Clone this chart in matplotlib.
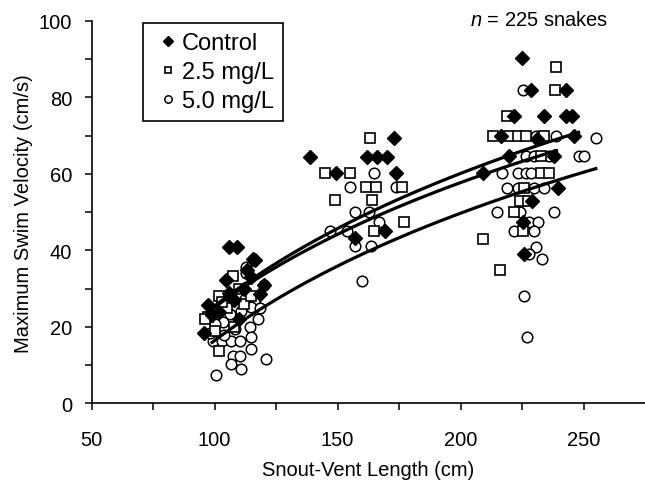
import numpy as np
import matplotlib
matplotlib.use("Agg")
import matplotlib.pyplot as plt

plt.rcParams['font.family'] = ['Liberation Sans', 'DejaVu Sans']
plt.rcParams['mathtext.fontset'] = 'custom'
plt.rcParams['mathtext.rm'] = 'Liberation Sans'
plt.rcParams['mathtext.it'] = 'Liberation Sans:italic'

# values
control_x = [105.9, 109.1, 116.3, 115.6, 104.5, 118.3, 97.5, 95.7, 112.0, 115.0, 120.0, 102.0, 108.0, 110.0,
             106.0, 113.0, 99.0,
             173.1, 138.9, 161.9, 166.0, 170.0, 149.5, 173.8, 169.1, 157.2,
             225.0, 228.6, 243.0, 221.9, 234.0, 243.0, 245.5, 216.5, 246.2, 219.8, 238.0, 209.0,
             239.5, 229.0, 225.2, 226.0, 231.0]
control_y = [40.8, 40.8, 37.6, 37.7, 32.3, 28.6, 25.8, 18.3, 30.0, 33.0, 31.0, 24.0, 27.0, 22.0,
             29.0, 35.0, 23.0,
             69.3, 64.3, 64.3, 64.3, 64.3, 60.2, 60.2, 45.1, 43.2,
             90.2, 82.0, 82.0, 75.2, 75.2, 75.2, 75.2, 70.0, 70.0, 64.8, 64.8, 60.2,
             56.3, 53.0, 47.5, 39.0, 69.0]

low_x = [107.5, 101.8, 97.5, 102.0, 110.0, 112.0, 105.0, 115.0, 100.0, 96.0, 108.0, 103.0,
         163.0, 145.1, 154.9, 161.4, 165.7, 176.3, 149.0, 164.1, 176.9, 165.0,
         239.0, 238.5, 218.7, 213.0, 219.8, 223.2, 226.6, 234.0, 232.7, 232.7, 236.0,
         226.0, 224.0, 227.3, 221.9, 225.2, 209.0, 216.0]
low_y = [33.3, 28.2, 22.5, 13.8, 30.0, 26.0, 25.0, 28.0, 19.0, 22.0, 20.0, 26.5,
         69.3, 60.2, 60.2, 56.5, 56.5, 56.5, 53.2, 53.2, 47.3, 45.1,
         87.9, 82.0, 75.2, 70.0, 70.0, 70.0, 70.0, 70.0, 64.8, 60.2, 60.2,
         56.3, 53.0, 53.0, 50.1, 45.1, 43.0, 35.0]

high_x = [112.9, 112.9, 112.3, 116.3, 115.0, 110.9, 106.2, 117.6, 103.4, 100.1, 114.3, 115.0,
          99.4, 103.2, 106.8, 110.2, 115.0, 107.5, 110.2, 121.0, 106.8, 110.9, 100.7, 120.0,
          98.0, 104.0, 108.5, 118.5,
          165.0, 154.9, 173.8, 156.9, 162.7, 166.8, 147.0, 153.8, 156.9, 163.7, 159.9,
          225.5, 230.7, 238.8, 255.0, 226.6, 230.0, 236.0, 248.0, 250.0, 217.0, 223.2, 226.6,
          228.6, 219.0, 223.2, 230.0, 234.0, 215.0, 224.0, 238.0, 228.0, 231.3, 221.9, 230.0,
          230.7, 228.0, 233.0, 225.9, 226.9]
high_y = [35.6, 34.0, 27.3, 27.3, 25.1, 24.2, 23.4, 22.1, 21.2, 20.7, 19.9, 17.3,
          16.4, 16.4, 16.4, 16.4, 14.2, 12.5, 12.5, 11.6, 10.3, 9.0, 7.4, 31.0,
          18.5, 18.0, 19.5, 25.0,
          60.2, 56.5, 56.5, 50.0, 50.0, 47.5, 45.1, 45.1, 41.1, 41.1, 32.1,
          82.0, 70.0, 70.0, 69.5, 64.8, 64.8, 64.8, 64.8, 64.8, 60.2, 60.2, 60.2,
          60.2, 56.3, 56.3, 56.3, 56.3, 50.1, 50.1, 50.1, 47.5, 47.5, 45.1, 45.1,
          40.8, 39.0, 37.7, 28.0, 17.4]

# fitted curves y = a + b*ln(x) for control, 2.5 and 5.0 mg/L
fit_a = [-204.8, -191.3, -204.6]
fit_b = [50.0, 47.0, 48.0]
fit_start = [97, 97, 99]
fit_end = [248, 239, 255]

fig = plt.figure(figsize=(6.45, 4.85), dpi=100)
ax = fig.add_axes([0.142, 0.166, 0.858, 0.789])

ax.plot(high_x, high_y, 'o', ms=7.6, mfc='white', mec='black', mew=1.1, ls='none', label='5.0 mg/L', zorder=2)
ax.plot(low_x, low_y, 's', ms=6.6, mfc='white', mec='black', mew=1.2, ls='none', label='2.5 mg/L', zorder=2)
ax.plot(control_x, control_y, 'D', ms=7.3, mfc='black', mec='black', ls='none', label='Control', zorder=2)

for i in range(3):
    xs = np.linspace(fit_start[i], fit_end[i], 100)
    ax.plot(xs, fit_a[i] + fit_b[i] * np.log(xs), color='black', lw=2.3, zorder=3)

ax.set_xlim(50, 275)
ax.set_ylim(0, 100)
ax.set_xticks([50, 100, 150, 200, 250])
ax.set_xticks([75, 125, 175, 225], minor=True)
ax.set_yticks(np.arange(0, 101, 20))
ax.set_yticks(np.arange(10, 100, 20), minor=True)
ax.tick_params(which='both', direction='out', length=5, width=1.1, labelsize=14.5)
ax.tick_params(axis='x', pad=14)
ax.tick_params(axis='y', pad=9)
ax.spines['top'].set_visible(False)
ax.spines['right'].set_visible(False)
for side in ['left', 'bottom']:
    ax.spines[side].set_linewidth(1.2)
    ax.spines[side].set_clip_on(False)

ax.set_xlabel('Snout-Vent Length (cm)', fontsize=14.5, labelpad=8)
ax.set_ylabel('Maximum Swim Velocity (cm/s)', fontsize=14.5, labelpad=4)

handles, labels = ax.get_legend_handles_labels()
leg = ax.legend(handles[::-1], labels[::-1], loc='upper left',
                bbox_to_anchor=(143 / 645, 1 - 24 / 485), bbox_transform=fig.transFigure,
                frameon=True, fancybox=False, edgecolor='black', framealpha=1,
                fontsize=17, markerscale=0.7, handlelength=1.3, handletextpad=-0.05,
                borderpad=0.39, labelspacing=0.29, borderaxespad=0)
leg.get_frame().set_linewidth(1.2)

fig.text(608 / 645, 1 - 21 / 485, r'$\it{n}$ = 225 snakes', ha='right', va='center', fontsize=14.5)

fig.savefig('out.png', dpi=100)
